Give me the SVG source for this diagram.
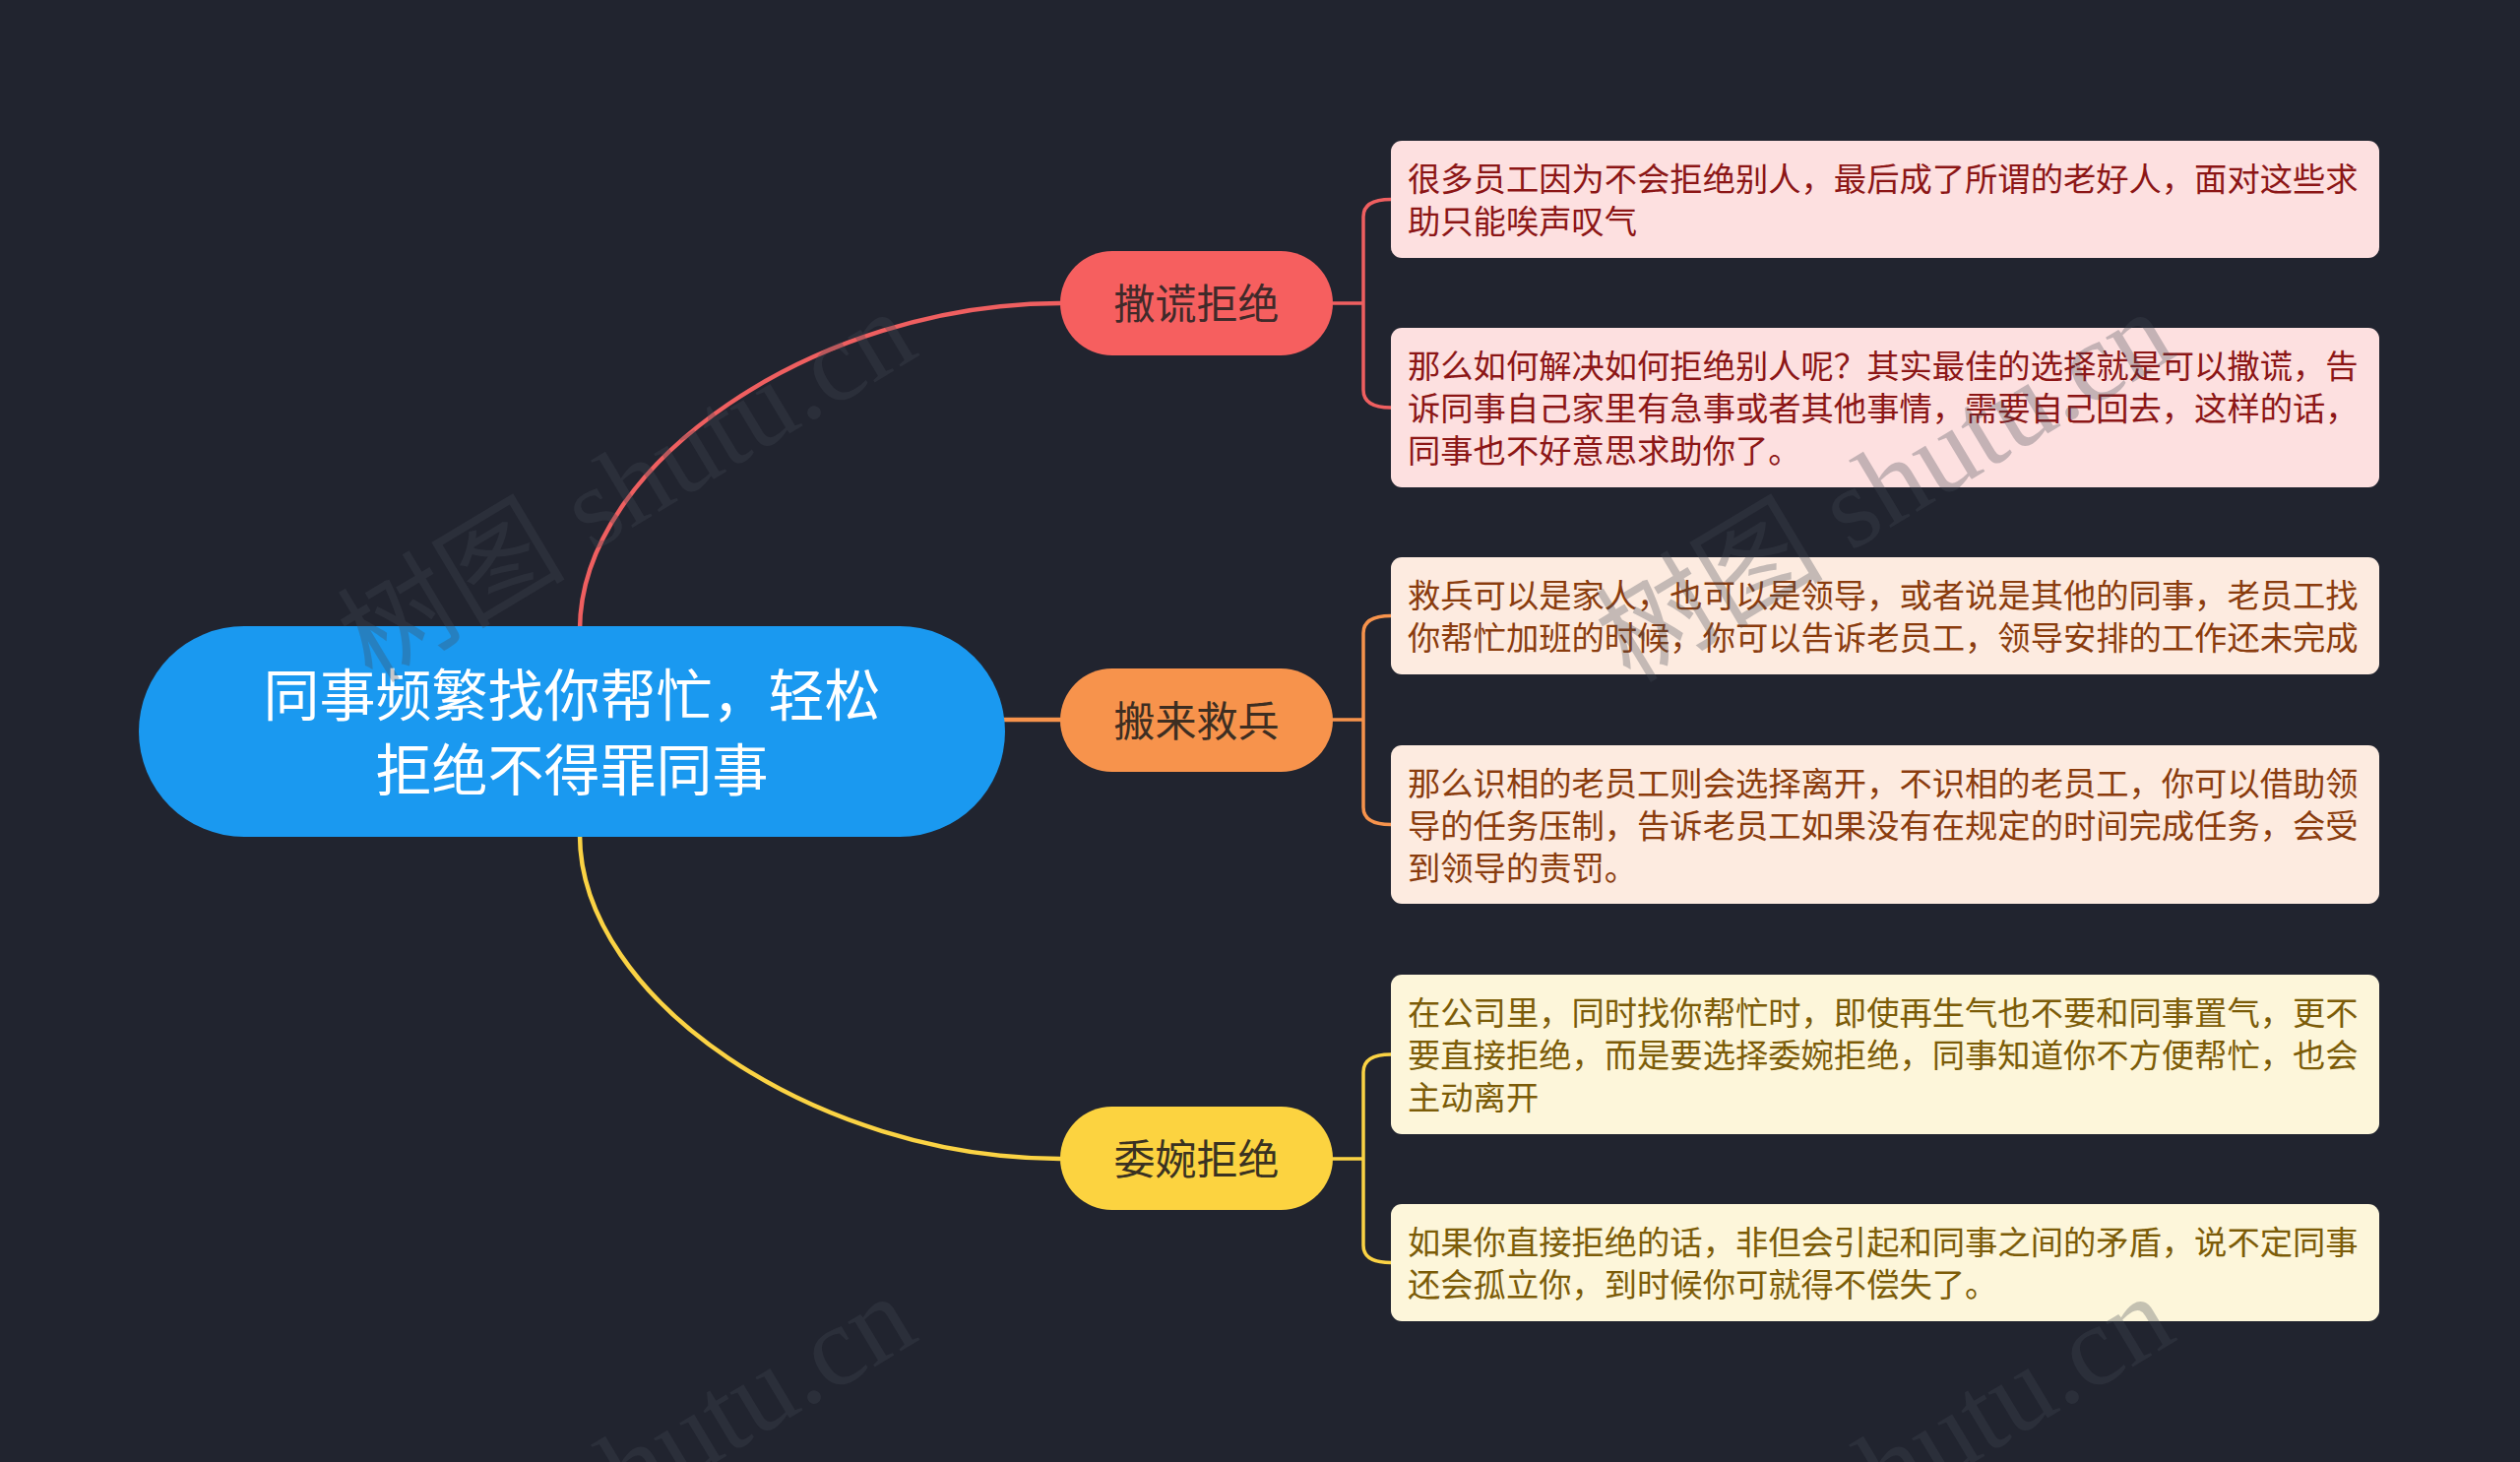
<svg xmlns="http://www.w3.org/2000/svg" width="2560" height="1485" viewBox="0 0 2560 1485">
<style>
.cjk{font-family:"Noto Sans CJK SC","Noto Sans",sans-serif}
.root-t{font-size:57px;fill:#ffffff;text-anchor:middle}
.br-t{font-size:42px;text-anchor:middle}
.leaf-t{font-size:33.3px}
.conn{fill:none;stroke-linecap:round}
.main{stroke-width:4.5}
.brk{stroke-width:3.5}
.wm{font-family:"Liberation Serif","Noto Sans CJK SC",serif;font-size:116px;fill:#444a55;opacity:0.3}
</style>
<rect width="2560" height="1485" fill="#21242f"/>
<g id="connectors">
<path class="conn main" stroke="#ef5f60" d="M589,640 C589,470 830,308 1077,308"/>
<path class="conn main" stroke="#f7934c" d="M1010,731 H1077"/>
<path class="conn main" stroke="#fbd344" d="M589,848 C589,1015 830,1177 1077,1177"/>
<path class="conn brk" stroke="#ef5f60" d="M1354,308 H1385 M1385,308 V220 C1385,207 1396,202.5 1413,202.5 M1385,308 V396 C1385,409 1396,414 1413,414"/>
<path class="conn brk" stroke="#f7934c" d="M1354,731 H1385 M1385,731 V643 C1385,630 1396,625.5 1413,625.5 M1385,731 V820 C1385,833 1396,837.5 1413,837.5"/>
<path class="conn brk" stroke="#fbd344" d="M1354,1177 H1385 M1385,1177 V1089 C1385,1076 1396,1071 1413,1071 M1385,1177 V1265 C1385,1278 1396,1282.5 1413,1282.5"/>
</g>
<g id="root">
<rect x="141" y="636" width="880" height="214" rx="107" fill="#1a99f0"/>
<text class="cjk root-t" x="581" y="726.7">同事频繁找你帮忙，轻松</text>
<text class="cjk root-t" x="581" y="802.7">拒绝不得罪同事</text>
</g>
<g id="b1">
<rect x="1077" y="255" width="277" height="106" rx="53" fill="#f65f5f"/>
<text class="cjk br-t" x="1215.5" y="324" fill="#402a2a">撒谎拒绝</text>
</g>
<g id="b2">
<rect x="1077" y="679" width="277" height="105" rx="52.5" fill="#f7934c"/>
<text class="cjk br-t" x="1215.5" y="747.5" fill="#3d2e22">搬来救兵</text>
</g>
<g id="b3">
<rect x="1077" y="1124" width="277" height="105" rx="52.5" fill="#fcd340"/>
<text class="cjk br-t" x="1215.5" y="1192.5" fill="#3a3222">委婉拒绝</text>
</g>
<g id="l1">
<rect x="1413" y="143" width="1004" height="119" rx="11" fill="#fde0e0"/>
<text class="cjk leaf-t" fill="#8c1616" x="1430" y="193.7">很多员工因为不会拒绝别人，最后成了所谓的老好人，面对这些求</text>
<text class="cjk leaf-t" fill="#8c1616" x="1430" y="236.7">助只能唉声叹气</text>
</g>
<g id="l2">
<rect x="1413" y="333" width="1004" height="162" rx="11" fill="#fde0e0"/>
<text class="cjk leaf-t" fill="#8c1616" x="1430" y="383.7">那么如何解决如何拒绝别人呢？其实最佳的选择就是可以撒谎，告</text>
<text class="cjk leaf-t" fill="#8c1616" x="1430" y="426.7">诉同事自己家里有急事或者其他事情，需要自己回去，这样的话，</text>
<text class="cjk leaf-t" fill="#8c1616" x="1430" y="469.7">同事也不好意思求助你了。</text>
</g>
<g id="l3">
<rect x="1413" y="566" width="1004" height="119" rx="11" fill="#fdebe0"/>
<text class="cjk leaf-t" fill="#8a3c0e" x="1430" y="616.7">救兵可以是家人，也可以是领导，或者说是其他的同事，老员工找</text>
<text class="cjk leaf-t" fill="#8a3c0e" x="1430" y="659.7">你帮忙加班的时候，你可以告诉老员工，领导安排的工作还未完成</text>
</g>
<g id="l4">
<rect x="1413" y="757" width="1004" height="161" rx="11" fill="#fdebe0"/>
<text class="cjk leaf-t" fill="#8a3c0e" x="1430" y="807.7">那么识相的老员工则会选择离开，不识相的老员工，你可以借助领</text>
<text class="cjk leaf-t" fill="#8a3c0e" x="1430" y="850.7">导的任务压制，告诉老员工如果没有在规定的时间完成任务，会受</text>
<text class="cjk leaf-t" fill="#8a3c0e" x="1430" y="893.7">到领导的责罚。</text>
</g>
<g id="l5">
<rect x="1413" y="990" width="1004" height="162" rx="11" fill="#fdf6da"/>
<text class="cjk leaf-t" fill="#7c5c08" x="1430" y="1040.7">在公司里，同时找你帮忙时，即使再生气也不要和同事置气，更不</text>
<text class="cjk leaf-t" fill="#7c5c08" x="1430" y="1083.7">要直接拒绝，而是要选择委婉拒绝，同事知道你不方便帮忙，也会</text>
<text class="cjk leaf-t" fill="#7c5c08" x="1430" y="1126.7">主动离开</text>
</g>
<g id="l6">
<rect x="1413" y="1223" width="1004" height="119" rx="11" fill="#fdf6da"/>
<text class="cjk leaf-t" fill="#7c5c08" x="1430" y="1273.7">如果你直接拒绝的话，非但会引起和同事之间的矛盾，说不定同事</text>
<text class="cjk leaf-t" fill="#7c5c08" x="1430" y="1316.7">还会孤立你，到时候你可就得不偿失了。</text>
</g>
<g id="watermarks">
<text class="wm" transform="translate(378,695) rotate(-31)">树图 shutu.cn</text>
<text class="wm" transform="translate(1656,695) rotate(-31)">树图 shutu.cn</text>
<text class="wm" transform="translate(378,1695) rotate(-31)">树图 shutu.cn</text>
<text class="wm" transform="translate(1656,1695) rotate(-31)">树图 shutu.cn</text>
</g>
</svg>
